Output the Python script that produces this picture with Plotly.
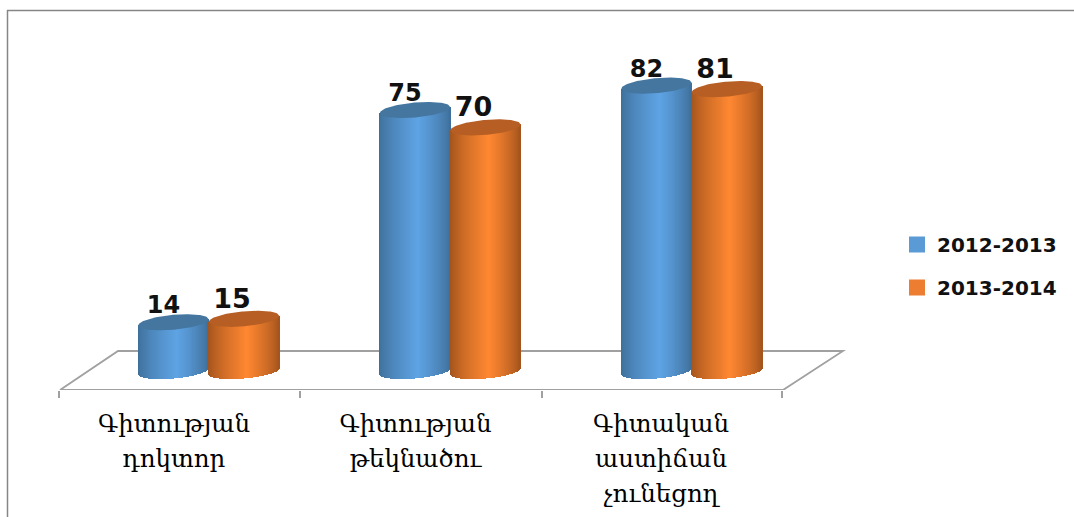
import plotly.graph_objects as go

# ---- data ----
categories = ["Գիտության<br>դոկտոր", "Գիտության<br>թեկնածու", "Գիտական<br>աստիճան<br>չունեցող"]
series_names = ["2012-2013", "2013-2014"]
values_2012 = [14, 75, 82]
values_2013 = [15, 70, 81]

# ---- layout constants (pixels) ----
W, H = 1074, 517
ML, MR, MT, MB = 14, 4, 30, 127
PX_UNIT_X = 241.5          # pixels per category
X0_PX = 181.5              # pixel of category 0
PX_UNIT_Y = 3.48           # pixels per value unit
Y0_PX = 371                # pixel of value 0 (cylinder base centre)
A_PX, B_PX, K_PX = 35.2, 7.5, 3.0   # ellipse half-width, half-height, tilt
SLICES = 72


def xval(px):
    return (px - X0_PX) / PX_UNIT_X


def yval(px):
    return (Y0_PX - px) / PX_UNIT_Y


def mix(c1, c2, t):
    return "rgb(%d,%d,%d)" % tuple(round(a + (b - a) * t) for a, b in zip(c1, c2))


def cylinder(cat_index, value, dx_px, edge, mid):
    """Slices (x, base, height, colour) of one cylinder from its value."""
    xs, bases, heights, colours = [], [], [], []
    for i in range(SLICES):
        u = -1 + 2 * (i + 0.5) / SLICES
        dx = u * A_PX
        low = -K_PX * u + B_PX * (1 - u * u) ** 0.5     # pixels below centre line
        xs.append(cat_index + dx_px / PX_UNIT_X + dx / PX_UNIT_X)
        base = -low / PX_UNIT_Y
        top = value + K_PX * u / PX_UNIT_Y
        bases.append(base)
        heights.append(top - base)
        s = (u + 1) / 2
        peak = 0.55
        t = s / peak if s < peak else (1 - s) / (1 - peak)
        colours.append(mix(edge, mid, min(1, t ** 0.75)))
    return xs, bases, heights, colours


def cap(cat_index, value, dx_px):
    xs, ys = [], []
    n = 72
    for i in range(n + 1):
        u = 1 - 2 * i / n
        xs.append(cat_index + dx_px / PX_UNIT_X + u * A_PX / PX_UNIT_X)
        ys.append(value + (K_PX * u + B_PX * (1 - u * u) ** 0.5) / PX_UNIT_Y)
    for i in range(n + 1):
        u = -1 + 2 * i / n
        xs.append(cat_index + dx_px / PX_UNIT_X + u * A_PX / PX_UNIT_X)
        ys.append(value + (K_PX * u - B_PX * (1 - u * u) ** 0.5) / PX_UNIT_Y)
    return xs, ys


styles = [
    dict(vals=values_2012, dx=-8.0, edge=(62, 110, 152), mid=(94, 163, 228), cap="#44769F",
         swatch="#5B9BD5", lab_dx=-10, lab_dy=15, size=24),
    dict(vals=values_2013, dx=62.5, edge=(160, 82, 28), mid=(255, 135, 49), cap="#B65E23",
         swatch="#ED7D31", lab_dx=-12, lab_dy=18, size=27),
]

fig = go.Figure()
slice_w = 2 * A_PX / SLICES / PX_UNIT_X * 1.15

# legend swatches
for name, st in zip(series_names, styles):
    fig.add_trace(go.Scatter(x=[None], y=[None], mode="markers", name=name,
                             legendgroup=name,
                             marker=dict(symbol="square", size=16, color=st["swatch"],
                                         line=dict(width=0))))

# cylinders: bodies first, blue then orange
for st in styles:
    X, B, Y, C = [], [], [], []
    for i, v in enumerate(st["vals"]):
        xs, bs, hs, cs = cylinder(i, v, st["dx"], st["edge"], st["mid"])
        X += xs; B += bs; Y += hs; C += cs
    fig.add_trace(go.Bar(x=X, y=Y, base=B, width=slice_w,
                         marker=dict(color=C, line=dict(width=0)),
                         showlegend=False, hoverinfo="skip"))

# top caps
for st in styles:
    for i, v in enumerate(st["vals"]):
        xs, ys = cap(i, v, st["dx"])
        fig.add_trace(go.Scatter(x=xs, y=ys, mode="lines", fill="toself",
                                 fillcolor=st["cap"], line=dict(width=0, color=st["cap"]),
                                 showlegend=False, hoverinfo="skip"))

# value labels
for st in styles:
    fig.add_trace(go.Scatter(
        x=[i + (st["dx"] + st["lab_dx"]) / PX_UNIT_X for i in range(len(categories))],
        y=[v + st["lab_dy"] / PX_UNIT_Y for v in st["vals"]],
        text=[str(v) for v in st["vals"]],
        mode="text", textposition="middle center",
        textfont=dict(family="DejaVu Sans", size=st["size"], color="#111111", weight="bold"),
        showlegend=False, hoverinfo="skip", cliponaxis=False))

# floor outline
floor_px = [(60, 390), (118, 351), (843, 351), (783, 390), (60, 390)]
floor_path = "M " + " L ".join("%.4f,%.4f" % (xval(a), yval(b)) for a, b in floor_px)

PW, PH = W - ML - MR, H - MT - MB
shapes = [
    dict(type="path", path=floor_path, xref="x", yref="y", layer="below",
         line=dict(color="#A0A0A0", width=1.8)),
    dict(type="line", xref="paper", yref="paper",
         x0=(7 - ML) / PW, x1=(W - ML) / PW,
         y0=(H - MB - 10.5) / PH, y1=(H - MB - 10.5) / PH,
         line=dict(color="#868686", width=1.5)),
    dict(type="line", xref="paper", yref="paper",
         x0=(7.5 - ML) / PW, x1=(7.5 - ML) / PW,
         y0=(H - MB - 10) / PH, y1=(H - MB - H) / PH,
         line=dict(color="#868686", width=1.5)),
]

label_shift = [-7.5, -7.5, -3.5]
wrapped = ['<span style="font-size:24.5px">' + c.replace("<br>", '</span><br><span style="font-size:24.5px">') + "</span>"
           for c in categories]

fig.update_layout(
    width=W, height=H,
    margin=dict(l=ML, r=MR, t=MT, b=MB, pad=0),
    paper_bgcolor="white", plot_bgcolor="rgba(0,0,0,0)",
    barmode="overlay", bargap=0,
    shapes=shapes,
    xaxis=dict(
        range=[xval(ML), xval(W - MR)],
        showgrid=False, zeroline=False, showline=False,
        tickmode="array",
        tickvals=[i + s / PX_UNIT_X for i, s in enumerate(label_shift)],
        ticktext=wrapped, ticks="", tickangle=0, ticklabelstandoff=14,
        tickfont=dict(family="DejaVu Serif", size=27, color="#000000"),
        minor=dict(tickmode="array", tickvals=[xval(p) for p in (59, 300, 542, 782)],
                   ticks="outside", ticklen=7, tickcolor="#A0A0A0", tickwidth=1.5),
    ),
    yaxis=dict(range=[yval(H - MB), yval(MT)], visible=False),
    legend=dict(x=(897 - ML) / PW, y=(H - MB - 225) / PH,
                xanchor="left", yanchor="top",
                font=dict(family="DejaVu Sans", size=20, color="#111111", weight="bold"),
                tracegroupgap=14, itemclick=False, itemdoubleclick=False,
                bgcolor="rgba(0,0,0,0)"),
    showlegend=True,
    hovermode=False,
)

fig.write_html("out.html", config={"displayModeBar": False},
               post_script="document.body.style.margin='0';")
